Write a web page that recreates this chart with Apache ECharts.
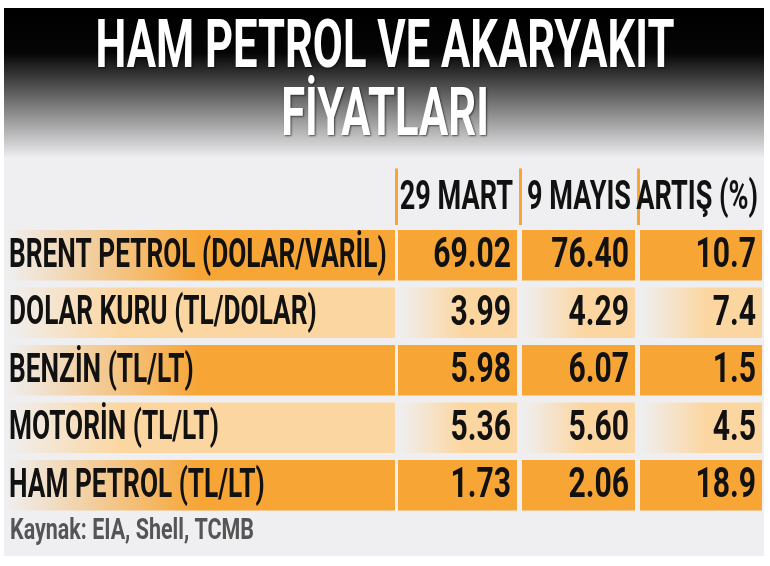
<!DOCTYPE html><html><head><meta charset="utf-8">
<script src="https://cdn.jsdelivr.net/npm/echarts@6/dist/echarts.min.js"></script>
<style>html,body{margin:0;padding:0;background:#fff}#c{width:770px;height:566px}</style></head><body><div id="c"></div>
<script>
const titleLines = ['HAM PETROL VE AKARYAKIT', 'FİYATLARI'];
const columns = ['29 MART', '9 MAYIS', 'ARTIŞ (%)'];
const rows = ['BRENT PETROL (DOLAR/VARİL)', 'DOLAR KURU (TL/DOLAR)', 'BENZİN (TL/LT)', 'MOTORİN (TL/LT)', 'HAM PETROL (TL/LT)'];
const mart = [69.02, 3.99, 5.98, 5.36, 1.73];
const mayis = [76.40, 4.29, 6.07, 5.60, 2.06];
const artis = [10.7, 7.4, 1.5, 4.5, 18.9];
const source = 'Kaynak: EIA, Shell, TCMB';

const colEdges = [[5, 395], [398, 517], [522, 635], [640, 762]];
const FONT = 'Roboto';
const strong = '#f7a535', light = '#fcd6a0';

const data = [];
columns.forEach((c, i) => data.push([i + 1, 0, c, 'head']));
rows.forEach((r, j) => {
  const k = j % 2 === 0 ? 'strong' : 'light';
  data.push([0, j + 1, r, k + 'L']);
  data.push([1, j + 1, mart[j].toFixed(2), k]);
  data.push([2, j + 1, mayis[j].toFixed(2), k]);
  data.push([3, j + 1, artis[j].toFixed(1), k]);
});

function renderItem(params, api) {
  const col = api.value(0), row = api.value(1);
  const text = data[params.dataIndex][2], kind = data[params.dataIndex][3];
  const e = colEdges[col];
  const p0 = api.coord([e[0], row]), p1 = api.coord([e[1], row]);
  const bh = api.size([0, 1])[1];
  const h = bh * 0.88;
  const top = p0[1] - h / 2;
  const w = p1[0] - p0[0];
  const children = [];
  if (kind === 'head') {
    children.push({type: 'rect', shape: {x: p0[0] - 3, y: top - 4, width: 3, height: h + 6}, style: {fill: strong}});
    children.push({type: 'text', x: p1[0] - 4, y: p0[1] + 1, scaleX: 0.66,
      style: {x: 0, y: 0, text: text, align: 'right', verticalAlign: 'middle', font: 'bold 41px ' + FONT, fill: '#111'}});
  } else {
    const isLabel = kind.endsWith('L');
    const base = kind.startsWith('strong') ? strong : light;
    let fill = base;
    if (isLabel) {
      fill = {type: 'linear', x: 0, y: 0, x2: 1, y2: 0, colorStops: kind.startsWith('strong') ?
        [{offset: 0, color: 'rgba(247,165,53,0)'}, {offset: 0.5, color: base}, {offset: 1, color: base}] :
        [{offset: 0, color: 'rgba(252,214,160,0)'}, {offset: 0.3, color: base}, {offset: 1, color: base}]};
    } else if (kind === 'light') {
      fill = {type: 'linear', x: 0, y: 0, x2: 1, y2: 0, colorStops:
        [{offset: 0, color: 'rgba(252,214,160,0)'}, {offset: 0.55, color: base}, {offset: 1, color: base}]};
    }
    children.push({type: 'rect', shape: {x: p0[0], y: top, width: w, height: h}, style: {fill: fill}});
    if (isLabel) {
      children.push({type: 'text', x: p0[0] + 4, y: p0[1] + 1, scaleX: 0.64,
        style: {x: 0, y: 0, text: text, align: 'left', verticalAlign: 'middle', font: 'bold 41px ' + FONT, fill: '#111'}});
    } else {
      children.push({type: 'text', x: p1[0] - 6, y: p0[1] + 1, scaleX: 0.7,
        style: {x: 0, y: 0, text: text, align: 'right', verticalAlign: 'middle', font: 'bold 43px ' + FONT, fill: '#111'}});
    }
  }
  return {type: 'group', children: children};
}

const chart = echarts.init(document.getElementById('c'));
chart.setOption({
  animation: false,
  backgroundColor: '#fff',
  graphic: [
    {type: 'rect', z: -10, shape: {x: 4, y: 8, width: 760, height: 548}, style: {fill: '#efeff1'}},
    {type: 'rect', z: -9, shape: {x: 4, y: 8, width: 760, height: 150}, style: {fill: {type: 'linear', x: 0, y: 0, x2: 0, y2: 1,
      colorStops: [{offset: 0, color: '#000'}, {offset: 0.3, color: '#050505'}, {offset: 1, color: '#efeff1'}]}}},
    {type: 'text', x: 385, y: 50, scaleX: 0.66, style: {x: 0, y: 0, text: titleLines[0], align: 'center', verticalAlign: 'middle',
      font: 'bold 66px ' + FONT, fill: '#fff', textShadowColor: 'rgba(0,0,0,0.6)', textShadowBlur: 2, textShadowOffsetX: 1, textShadowOffsetY: 1}},
    {type: 'text', x: 385, y: 118, scaleX: 0.66, style: {x: 0, y: 0, text: titleLines[1], align: 'center', verticalAlign: 'middle',
      font: 'bold 66px ' + FONT, fill: '#fff', textShadowColor: 'rgba(0,0,0,0.6)', textShadowBlur: 2, textShadowOffsetX: 1, textShadowOffsetY: 1}},
    {type: 'text', x: 10, y: 532, scaleX: 0.74, style: {x: 0, y: 0, text: source, align: 'left', verticalAlign: 'middle',
      font: 'bold 29px ' + FONT, fill: '#555'}}
  ],
  grid: {left: 0, right: 0, top: 169, bottom: 52},
  xAxis: {type: 'value', min: 0, max: 770, show: false},
  yAxis: {type: 'category', inverse: true, data: [''].concat(rows), show: false},
  series: [{type: 'custom', renderItem: renderItem, data: data.map(d => [d[0], d[1]]), encode: {x: 0, y: 1}}]
});
</script></body></html>
